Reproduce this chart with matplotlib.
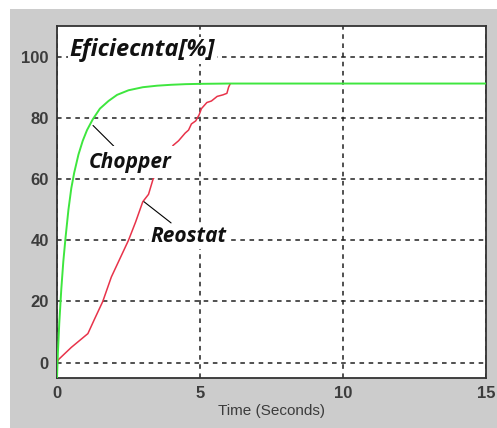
import matplotlib
matplotlib.use('Agg')
from matplotlib import pyplot as plt
from matplotlib import patches as mpatches

# chopper (green) efficiency curve
chopper_t = [0.0, 0.03, 0.08, 0.15, 0.22, 0.3, 0.4, 0.5, 0.6, 0.75, 0.9, 1.05, 1.25,
             1.5, 1.8, 2.1, 2.5, 3.0, 3.5, 4.0, 4.5, 5.0, 6.0, 8.0, 10.0, 12.0, 15.0]
chopper_eff = [-5.0, 3.0, 13.0, 24.0, 33.0, 41.0, 50.0, 57.0, 62.0, 68.0, 72.5, 76.0, 79.5,
               83.0, 85.5, 87.5, 89.0, 90.0, 90.5, 90.8, 91.0, 91.1, 91.2, 91.2, 91.2, 91.2, 91.2]

# reostat (red) efficiency curve
reostat_t = [0.0, 0.05, 0.5, 1.08, 1.3, 1.6, 1.9, 2.2, 2.5, 2.75, 3.0, 3.2, 3.36, 3.7, 4.06,
             4.25, 4.48, 4.6, 4.7, 4.85, 4.97, 5.05, 5.24, 5.4, 5.6, 5.8, 5.94, 6.0, 6.05]
reostat_eff = [0.0, 1.0, 5.0, 9.5, 14.0, 20.0, 28.0, 34.0, 40.0, 46.0, 52.6, 55.0, 60.0, 65.0, 71.0,
               72.5, 75.0, 76.0, 78.0, 79.0, 81.0, 83.0, 85.0, 85.5, 87.0, 87.5, 88.0, 90.0, 91.0]

x_ticks = [0, 5, 10, 15]
y_ticks = [0, 20, 40, 60, 80, 100]

fig = plt.figure(figsize=(4.97, 4.28), dpi=100, facecolor='white')
fig.patches.append(mpatches.Rectangle((10 / 497, 0), 1, (428 - 9) / 428, transform=fig.transFigure,
                                      facecolor='#cccccc', edgecolor='none', zorder=-10))
ax = fig.add_axes([57 / 497, 50 / 428, (486 - 57) / 497, (378 - 26) / 428])
ax.set_facecolor('white')

ax.plot(reostat_t, reostat_eff, color='#e8334a', lw=1.1, zorder=2)
ax.plot(chopper_t, chopper_eff, color='#3ee63e', lw=1.4, zorder=3)

ax.set_xlim(0, 15)
ax.set_ylim(-5, 110)
ax.set_xticks(x_ticks)
ax.set_yticks(y_ticks)
ax.grid(True, color='#202020', ls=(0, (3, 3)), lw=1.1)
for s in ax.spines.values():
    s.set_color('#333333')
    s.set_linewidth(1.3)
ax.tick_params(length=0, pad=6, labelsize=12, labelcolor='#3c3c3c')
for lab in ax.get_xticklabels() + ax.get_yticklabels():
    lab.set_family('Liberation Sans')
    lab.set_fontweight('bold')
ax.set_xlabel('Time (Seconds)', fontsize=11, color='#3c3c3c', family='Liberation Sans', labelpad=2)

txt = dict(family=['Open Sans', 'DejaVu Sans'], fontweight='bold', style='italic', color='#111111')
ax.text(0.45, 102, 'Eficiecnta[%]', fontsize=17, va='center', ha='left', zorder=5,
        bbox=dict(facecolor='white', edgecolor='none', pad=1), **txt)
ax.annotate('Chopper', xy=(1.26, 77.5), xytext=(2.55, 65.5), fontsize=15, ha='center', va='center',
            zorder=5, bbox=dict(facecolor='white', edgecolor='none', pad=4),
            arrowprops=dict(arrowstyle='-', color='black', lw=0.8, shrinkA=0, shrinkB=0), **txt)
ax.annotate('Reostat', xy=(3.04, 52.6), xytext=(4.6, 41.2), fontsize=15, ha='center', va='center',
            zorder=5, bbox=dict(facecolor='white', edgecolor='none', pad=1),
            arrowprops=dict(arrowstyle='-', color='black', lw=0.8, shrinkA=2, shrinkB=0), **txt)

fig.savefig('out.png', dpi=100)
